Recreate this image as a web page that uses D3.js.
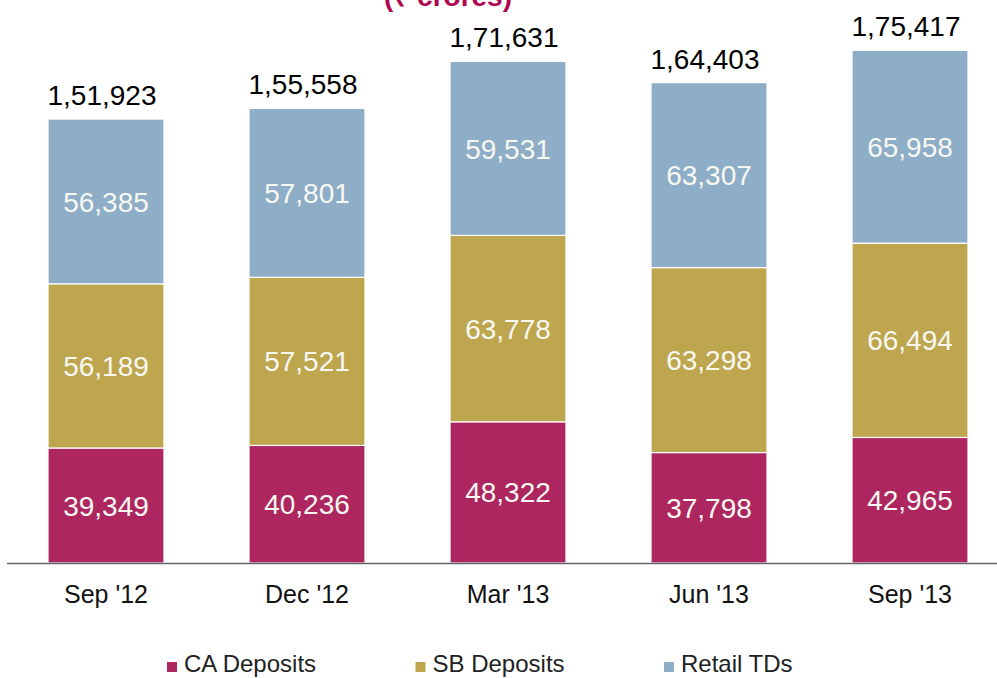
<!DOCTYPE html>
<html>

<head>
  <meta charset="utf-8">
  <title>Deposits</title>
  <script src="https://cdnjs.cloudflare.com/ajax/libs/d3/7.8.5/d3.min.js"></script>
  <style>
    body { margin: 0; background: #fff; }
    text { font-family: Arial, "Liberation Sans", sans-serif; }
  </style>
</head>

<body>
<script>
const width = 997;
const height = 678;

// data
const quarters = ["Sep '12", "Dec '12", "Mar '13", "Jun '13", "Sep '13"];
const caDeposits = [39349, 40236, 48322, 37798, 42965];
const sbDeposits = [56189, 57521, 63778, 63298, 66494];
const retailTDs = [56385, 57801, 59531, 63307, 65958];
const totals = [151923, 155558, 171631, 164403, 175417];
const seriesNames = ['CA Deposits', 'SB Deposits', 'Retail TDs'];
const seriesColors = ['#ad2660', '#bea64f', '#8eadc6'];

const fmt = (v) => v.toLocaleString('en-IN');

const rows = quarters.map((q, i) => ({
	quarter: q,
	'CA Deposits': caDeposits[i],
	'SB Deposits': sbDeposits[i],
	'Retail TDs': retailTDs[i]
}));

const svg = d3.select('body').append('svg')
	.attr('width', width)
	.attr('height', height);

const xScale = d3.scaleBand()
	.domain(quarters)
	.range([7, 1009])
	.paddingInner(0.423)
	.paddingOuter(0.204);

const yScale = d3.scaleLinear()
	.domain([0, 180000])
	.range([563, 37]);

const color = d3.scaleOrdinal()
	.domain(seriesNames)
	.range(seriesColors);

const stacked = d3.stack().keys(seriesNames)(rows);

// title, mostly cut off at the top in the original too
svg.append('text')
	.attr('x', 448)
	.attr('y', 6)
	.attr('text-anchor', 'middle')
	.attr('font-size', 28)
	.attr('font-weight', 'bold')
	.attr('fill', '#b0064f')
	.text('(₹ crores)');

const layer = svg.append('g')
	.selectAll('g')
	.data(stacked).enter()
	.append('g')
	.attr('fill', (d) => color(d.key));

layer.selectAll('rect')
	.data((d) => d).enter()
	.append('rect')
	.attr('x', (d) => xScale(d.data.quarter))
	.attr('width', xScale.bandwidth())
	.attr('y', (d) => yScale(d[1]))
	.attr('height', (d) => yScale(d[0]) - yScale(d[1]))
	.attr('stroke', '#fff')
	.attr('stroke-width', 1.2);

layer.selectAll('text')
	.data((d) => d).enter()
	.append('text')
	.attr('x', (d) => xScale(d.data.quarter) + xScale.bandwidth() / 2)
	.attr('y', (d) => (yScale(d[0]) + yScale(d[1])) / 2)
	.attr('dy', '0.36em')
	.attr('text-anchor', 'middle')
	.attr('font-size', 28)
	.attr('fill', '#f8f8f2')
	.text((d) => fmt(d[1] - d[0]));

// totals above the bars
svg.append('g')
	.selectAll('text')
	.data(totals).enter()
	.append('text')
	.attr('x', (d, i) => xScale(quarters[i]) + xScale.bandwidth() / 2 - 4)
	.attr('y', (d) => yScale(d) - 14)
	.attr('text-anchor', 'middle')
	.attr('font-size', 28)
	.attr('fill', '#000')
	.text((d) => fmt(d));

const xAxis = d3.axisBottom(xScale)
	.tickSize(0)
	.tickPadding(40);

const axisG = svg.append('g')
	.attr('transform', 'translate(0 563)')
	.call(xAxis);

axisG.select('.domain').remove();
axisG.selectAll('text')
	.attr('font-size', 25)
	.attr('fill', '#111')
	.attr('dy', '0');

svg.append('line')
	.attr('x1', 7)
	.attr('x2', width)
	.attr('y1', 563.5)
	.attr('y2', 563.5)
	.attr('stroke', '#666')
	.attr('stroke-width', 1.5);

// legend
const legend = svg.append('g')
	.selectAll('g')
	.data(seriesNames).enter()
	.append('g')
	.attr('transform', (d, i) => 'translate(' + (167 + i * 248.5) + ' 662)');

legend.append('rect')
	.attr('width', 10)
	.attr('height', 10)
	.attr('fill', (d) => color(d));

legend.append('text')
	.attr('x', 17)
	.attr('y', 10)
	.attr('font-size', 24)
	.attr('fill', '#222')
	.text((d) => d);
</script>

</body>

</html>
